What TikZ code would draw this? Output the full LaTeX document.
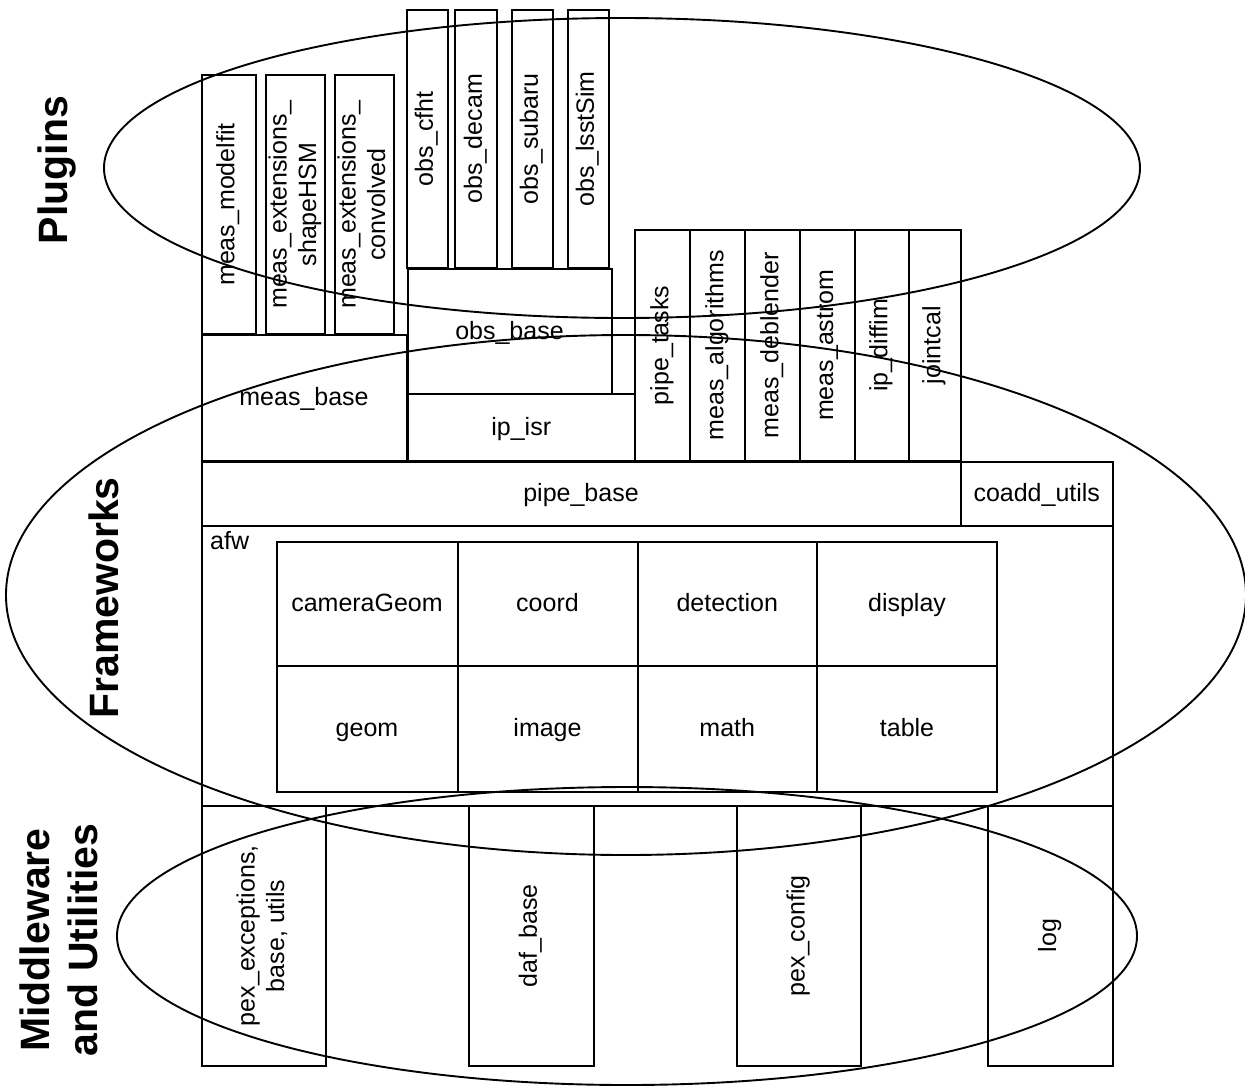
\documentclass[tikz,border=0pt]{standalone}
\usepackage{fontspec}
\setmainfont{Liberation Sans}
\usetikzlibrary{shapes.geometric}
\tikzset{
  box/.style={draw, line width=2pt, inner sep=0pt, outer sep=0pt, align=center, font=\fontsize{25}{29.5}\selectfont},
  ring/.style={draw, ellipse, line width=1.9pt, inner sep=0pt, minimum width=#1},
  biglabel/.style={rotate=90, align=center, font=\bfseries\fontsize{41}{48}\selectfont}
}
\newcommand{\hstrut}{\rule[-6.5pt]{0pt}{29pt}}
% horizontal box: name, x1, y1, x2, y2, text
\newcommand{\hbx}[6]{\node[box, minimum width={#4-#2}, minimum height={#5-#3}] (#1) at ({(#2+#4)/2},{(#3+#5)/2}) {\hstrut#6};}
% vertical (rotated text) box
\newcommand{\rbx}[6]{\node[box, rotate=90, minimum width={#5-#3}, minimum height={#4-#2}] (#1) at ({(#2+#4)/2},{(#3+#5)/2}) {\strut#6};}
\begin{document}
\begin{tikzpicture}[x=1pt, y=-1pt]
\useasboundingbox (0,0) rectangle (1245,1085);
% plugins
\rbx{mmf}{201.5}{75}{255.5}{334}{meas\_modelfit}
\rbx{mhsm}{268}{75}{323}{334}{meas\_extensions\_\\\strut shapeHSM}
\rbx{mconv}{337}{75}{392}{334}{meas\_extensions\_\\\strut convolved}
\rbx{cfht}{406.5}{9.5}{447.5}{268}{obs\_cfht}
\rbx{decam}{455}{9.5}{497}{268}{obs\_decam}
\rbx{subaru}{511.5}{9.5}{552.5}{268}{obs\_subaru}
\rbx{lsst}{567.5}{9.5}{608.5}{268}{obs\_lsstSim}
\hbx{obsbase}{407.5}{269}{611.5}{393.5}{obs\_base}
\hbx{measbase}{201.5}{335}{406.5}{460.5}{meas\_base}
\hbx{ipisr}{407.5}{393.5}{635}{460.5}{ip\_isr}
\rbx{ptasks}{635}{230}{690}{460.5}{pipe\_tasks}
\rbx{malg}{690}{230}{745}{460.5}{meas\_algorithms}
\rbx{mdeb}{745}{230}{800}{460.5}{meas\_deblender}
\rbx{mastr}{800}{230}{854.5}{460.5}{meas\_astrom}
\rbx{ipdiff}{854.5}{230}{908.5}{460.5}{ip\_diffim}
\rbx{jcal}{908.5}{230}{960.5}{460.5}{jointcal}
% frameworks
\hbx{pipebase}{201.5}{461.5}{960.5}{525.5}{pipe\_base}
\hbx{coadd}{960.5}{461.5}{1113}{525.5}{coadd\_utils}
\hbx{afw}{201.5}{525.5}{1113}{805.5}{}
\node[anchor=north west, inner sep=0pt, font=\fontsize{25}{27}\selectfont] (afwlabel) at (210,531) {afw};
\hbx{cgeom}{276.5}{541.5}{457.5}{666}{cameraGeom}
\hbx{coord}{457.5}{541.5}{637.5}{666}{coord}
\hbx{detect}{637.5}{541.5}{817}{666}{detection}
\hbx{disp}{817}{541.5}{997}{666}{display}
\hbx{geom}{276.5}{666}{457.5}{791.5}{geom}
\hbx{image}{457.5}{666}{637.5}{791.5}{image}
\hbx{math}{637.5}{666}{817}{791.5}{math}
\hbx{table}{817}{666}{997}{791.5}{table}
% middleware
\rbx{pex}{201.5}{805.5}{325.5}{1066}{pex\_exceptions,\\\strut base, utils}
\rbx{daf}{468.5}{805.5}{593.5}{1066}{daf\_base}
\rbx{pexc}{736.5}{805.5}{861}{1066}{pex\_config}
\rbx{log}{987.5}{805.5}{1113}{1066}{log}
% ellipses
\node[ring=1036pt, minimum height=300pt] (plugE) at (622,168) {};
\node[ring=1240pt, minimum height=520pt] (frameE) at (626,595) {};
\node[ring=1020pt, minimum height=298pt] (midE) at (627,936) {};
% labels
\node[biglabel] (plugL) at (57,170) {Plugins};
\node[biglabel] (frameL) at (104,598) {Frameworks};
\node[biglabel] (midL) at (59,940) {Middleware\\and Utilities};
\end{tikzpicture}
\end{document}
